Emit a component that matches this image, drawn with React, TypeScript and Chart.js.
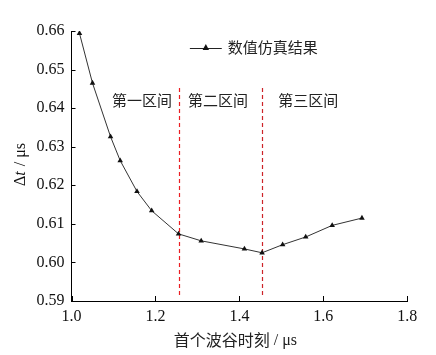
import React, { useEffect, useRef } from "react";
import { Chart, registerables } from "chart.js";

Chart.register(...registerables);

const xValues = [1.019, 1.05, 1.093, 1.116, 1.156, 1.191, 1.255, 1.309, 1.412, 1.454, 1.503, 1.558, 1.621, 1.692];
const yValues = [0.6594, 0.6465, 0.6326, 0.6264, 0.6184, 0.6134, 0.6074, 0.6056, 0.6035, 0.6025, 0.6046, 0.6066, 0.6096, 0.6115];
const seriesName = "数值仿真结果";
const boundaries = [1.255, 1.455];
const boundaryColors = ["rgb(235,30,35)", "rgb(205,35,40)"];
const regionLabels = ["第一区间", "第二区间", "第三区间"];
const regionCenters = [1.168, 1.349, 1.564];
const xTicks = [1.0, 1.2, 1.4, 1.6, 1.8];
const yTicks = [0.59, 0.6, 0.61, 0.62, 0.63, 0.64, 0.65, 0.66];

const SERIF = "Liberation Serif";
const CJK = "Noto Sans CJK SC";

const boundaryPlugin = {
  id: "boundaries",
  beforeDatasetsDraw(chart: any) {
    const ctx = chart.ctx;
    const xs = chart.scales.x;
    const ys = chart.scales.y;
    const topY = ys.getPixelForValue(0.6452);
    const botY = ys.getPixelForValue(0.5915);
    boundaries.forEach((b, i) => {
      ctx.save();
      const px = Math.round(xs.getPixelForValue(b)) + 0.5;
      ctx.strokeStyle = boundaryColors[i];
      ctx.lineWidth = 1.2;
      ctx.setLineDash([4, 3]);
      ctx.beginPath();
      ctx.moveTo(px, topY);
      ctx.lineTo(px, botY);
      ctx.stroke();
      ctx.restore();
    });
  },
};

const overlay = {
  id: "overlay",
  afterDraw(chart: any) {
    const ctx = chart.ctx;
    const xs = chart.scales.x;
    const ys = chart.scales.y;
    const area = chart.chartArea;
    ctx.save();
    ctx.setLineDash([]);
    // inward ticks
    ctx.strokeStyle = "#000";
    ctx.lineWidth = 1;
    ctx.beginPath();
    xTicks.forEach((v) => {
      const px = Math.round(xs.getPixelForValue(v)) + 0.5;
      ctx.moveTo(px, area.bottom);
      ctx.lineTo(px, area.bottom - 5);
    });
    yTicks.forEach((v) => {
      const py = Math.round(ys.getPixelForValue(v)) + 0.5;
      ctx.moveTo(area.left, py);
      ctx.lineTo(area.left + 4, py);
    });
    ctx.stroke();
    // region labels
    ctx.fillStyle = "#222";
    ctx.font = "15px '" + CJK + "'";
    ctx.textAlign = "center";
    ctx.textBaseline = "middle";
    regionLabels.forEach((t, i) => {
      ctx.fillText(t, xs.getPixelForValue(regionCenters[i]), ys.getPixelForValue(0.6421));
    });
    // legend
    const ly = ys.getPixelForValue(0.6557);
    const lx0 = xs.getPixelForValue(1.282);
    const lx1 = xs.getPixelForValue(1.358);
    ctx.strokeStyle = "#222";
    ctx.lineWidth = 1;
    ctx.beginPath();
    ctx.moveTo(lx0, Math.round(ly) + 0.5);
    ctx.lineTo(lx1, Math.round(ly) + 0.5);
    ctx.stroke();
    const cx = (lx0 + lx1) / 2;
    ctx.fillStyle = "#111";
    ctx.beginPath();
    ctx.moveTo(cx, ly - 3.5);
    ctx.lineTo(cx + 3.2, ly + 2.5);
    ctx.lineTo(cx - 3.2, ly + 2.5);
    ctx.closePath();
    ctx.fill();
    ctx.fillStyle = "#222";
    ctx.textAlign = "left";
    ctx.fillText(seriesName, lx1 + 6, ly);
    // y axis title: Δt / μs (rotated, t italic)
    ctx.save();
    ctx.translate(21, (area.top + area.bottom) / 2 - 1);
    ctx.rotate(-Math.PI / 2);
    ctx.textBaseline = "middle";
    ctx.fillStyle = "#111";
    const p1 = "Δ";
    const p2 = "t";
    const p3 = " / μs";
    const reg = "16px '" + SERIF + "'";
    const ita = "italic 16px '" + SERIF + "'";
    ctx.font = reg;
    const w1 = ctx.measureText(p1).width;
    const w3 = ctx.measureText(p3).width;
    ctx.font = ita;
    const w2 = ctx.measureText(p2).width;
    let x = -(w1 + w2 + w3) / 2;
    ctx.textAlign = "left";
    ctx.font = reg;
    ctx.fillText(p1, x, 0);
    x += w1;
    ctx.font = ita;
    ctx.fillText(p2, x, 0);
    x += w2 + 1;
    ctx.font = reg;
    ctx.fillText(p3, x, 0);
    ctx.restore();
    // x axis title
    ctx.fillStyle = "#222";
    ctx.textBaseline = "middle";
    const xt1 = "首个波谷时刻";
    const xt2 = " / μs";
    ctx.font = "16px '" + CJK + "'";
    const a = ctx.measureText(xt1).width;
    ctx.font = reg;
    const bw = ctx.measureText(xt2).width;
    const startX = (area.left + area.right) / 2 - (a + bw) / 2 - 4;
    ctx.textAlign = "left";
    ctx.font = "16px '" + CJK + "'";
    ctx.fillText(xt1, startX, 340);
    ctx.font = reg;
    ctx.fillText(xt2, startX + a, 341);
    ctx.restore();
  },
};

export default function App() {
  const ref = useRef<HTMLCanvasElement | null>(null);
  useEffect(() => {
    document.body.style.margin = "0";
    const canvas = ref.current!;
    const chart = new Chart(canvas, {
      type: "scatter",
      data: {
        datasets: [
          {
            label: seriesName,
            data: xValues.map((x, i) => ({ x, y: yValues[i] })),
            showLine: true,
            borderColor: "#333",
            borderWidth: 1,
            backgroundColor: "#111",
            pointStyle: "triangle",
            pointRadius: 3.2,
            pointBorderWidth: 0,
            tension: 0,
          },
        ],
      },
      options: {
        animation: false,
        responsive: false,
        devicePixelRatio: 1,
        layout: { padding: { top: 31, right: 28.7, left: 0, bottom: 0 } },
        plugins: { legend: { display: false }, tooltip: { enabled: false } },
        scales: {
          x: {
            type: "linear",
            min: 1.0,
            max: 1.8,
            afterBuildTicks: (s: any) => {
              s.ticks = xTicks.map((v) => ({ value: v }));
            },
            afterFit: (s: any) => {
              s.height = 54;
            },
            grid: { display: false, drawTicks: false },
            border: { display: true, color: "#000", width: 1 },
            ticks: {
              color: "#111",
              padding: 6,
              font: { family: "'" + SERIF + "'", size: 16 },
              maxRotation: 0,
              callback: (v: any) => Number(v).toFixed(1),
            },
          },
          y: {
            type: "linear",
            min: 0.59,
            max: 0.66,
            afterBuildTicks: (s: any) => {
              s.ticks = yTicks.map((v) => ({ value: v }));
            },
            afterFit: (s: any) => {
              s.width = 71.5;
            },
            grid: { display: false, drawTicks: false },
            border: { display: true, color: "#000", width: 1 },
            ticks: {
              color: "#111",
              padding: 7,
              font: { family: "'" + SERIF + "'", size: 16 },
              callback: (v: any) => Number(v).toFixed(2),
            },
          },
        },
      },
      plugins: [boundaryPlugin, overlay],
    });
    return () => chart.destroy();
  }, []);
  return <canvas ref={ref} width={436} height={355} style={{ display: "block" }} />;
}
